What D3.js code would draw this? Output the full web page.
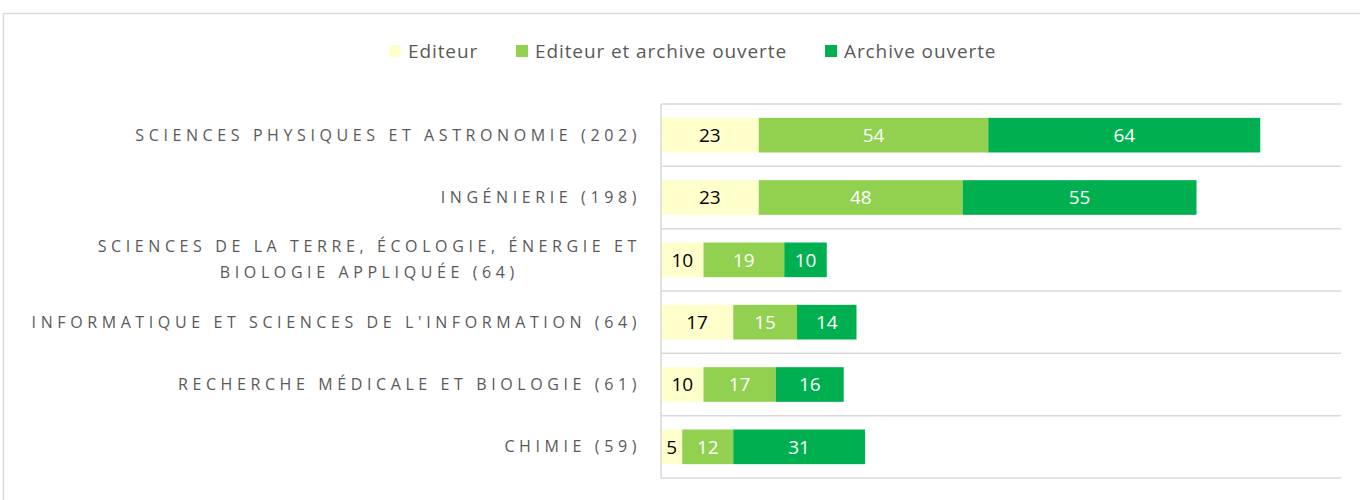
<!DOCTYPE html>
<html>
<head>
<meta charset="utf-8">
<script src="https://cdn.jsdelivr.net/npm/d3@7"></script>
<style>
  body { margin: 0; background: #fff; }
  svg { display: block; font-family: "Open Sans", sans-serif; }
</style>
</head>
<body>
<svg></svg>
<script>
let categories = [
  ["SCIENCES PHYSIQUES ET ASTRONOMIE (202)"],
  ["INGÉNIERIE (198)"],
  ["SCIENCES DE LA TERRE, ÉCOLOGIE, ÉNERGIE ET", "BIOLOGIE APPLIQUÉE (64)"],
  ["INFORMATIQUE ET SCIENCES DE L'INFORMATION (64)"],
  ["RECHERCHE MÉDICALE ET BIOLOGIE (61)"],
  ["CHIMIE (59)"]
];
let seriesNames = ["Editeur", "Editeur et archive ouverte", "Archive ouverte"];
let editeur = [23, 23, 10, 17, 10, 5];
let editeurArchive = [54, 48, 19, 15, 17, 12];
let archive = [64, 55, 10, 14, 16, 31];

let colors = ["#FFFFCC", "#92D050", "#00B050"];
let labelColors = ["#000000", "#ffffff", "#ffffff"];

let width = 1360;
let height = 500;
let plotLeft = 661;
let plotRight = 1341;
let plotTop = 104;
let plotBottom = 478;

let svg = d3.select("svg").attr("width", width).attr("height", height);

// chart frame
svg.append("rect")
  .attr("x", 3.5).attr("y", 13.5)
  .attr("width", 1400).attr("height", 600)
  .attr("fill", "none").attr("stroke", "#d9d9d9").attr("stroke-width", 1.5);

let rows = categories.map((c, i) => ({
  idx: i,
  vals: [editeur[i], editeurArchive[i], archive[i]]
}));

let xScale = d3.scaleLinear().domain([0, 160]).range([plotLeft, plotRight]);
let yScale = d3.scaleBand()
  .domain(d3.range(categories.length))
  .range([plotTop, plotBottom])
  .paddingInner(0.444)
  .paddingOuter(0.222);

// band separators
let step = yScale.step();
let seps = d3.range(categories.length + 1).map(i => plotTop + i * step);
svg.append("g").selectAll("line")
  .data(seps)
  .enter().append("line")
  .attr("x1", plotLeft).attr("x2", plotRight)
  .attr("y1", d => d).attr("y2", d => d)
  .attr("stroke", "#d9d9d9").attr("stroke-width", 1.5);

// stacked bars
let stacked = rows.map(r => {
  let acc = 0;
  return r.vals.map((v, k) => {
    let seg = { row: r.idx, k: k, v: v, x0: acc, x1: acc + v };
    acc += v;
    return seg;
  });
}).flat();

svg.append("g").selectAll("rect")
  .data(stacked)
  .enter().append("rect")
  .attr("x", d => xScale(d.x0))
  .attr("y", d => yScale(d.row))
  .attr("width", d => xScale(d.x1) - xScale(d.x0))
  .attr("height", yScale.bandwidth())
  .attr("fill", d => colors[d.k]);

svg.append("g").selectAll("text")
  .data(stacked)
  .enter().append("text")
  .attr("x", d => (xScale(d.x0) + xScale(d.x1)) / 2)
  .attr("y", d => yScale(d.row) + yScale.bandwidth() / 2)
  .attr("dy", "0.36em")
  .attr("text-anchor", "middle")
  .attr("font-size", 19)
  .attr("fill", d => labelColors[d.k])
  .text(d => d.v);

// left axis line
svg.append("line")
  .attr("x1", plotLeft).attr("x2", plotLeft)
  .attr("y1", plotTop).attr("y2", plotBottom)
  .attr("stroke", "#d9d9d9").attr("stroke-width", 1.5);

// category labels
let labelG = svg.append("g");
categories.forEach((lines, i) => {
  let cy = yScale(i) + yScale.bandwidth() / 2;
  let t = labelG.append("text")
    .attr("font-size", 16)
    .attr("letter-spacing", "4.6px")
    .attr("fill", "#595959");
  let lh = 26;
  lines.forEach((ln, j) => {
    t.append("tspan")
      .attr("y", cy + (j - (lines.length - 1) / 2) * lh)
      .attr("dy", "0.35em")
      .text(ln);
  });
  // right-align the block, center lines inside it
  let spans = t.selectAll("tspan").nodes();
  let widths = spans.map(s => s.getComputedTextLength());
  let maxW = d3.max(widths);
  let rightEdge = 641;
  spans.forEach((s, j) => {
    d3.select(s).attr("x", rightEdge - maxW / 2).attr("text-anchor", "middle");
  });
});

// legend
let legendX = [389, 516, 825];
let legend = svg.append("g");
seriesNames.forEach((name, k) => {
  legend.append("rect")
    .attr("x", legendX[k]).attr("y", 45)
    .attr("width", 12).attr("height", 12)
    .attr("fill", colors[k]);
  legend.append("text")
    .attr("x", legendX[k] + 19).attr("y", 51)
    .attr("dy", "0.36em")
    .attr("font-size", 19)
    .attr("letter-spacing", "0.9px")
    .attr("fill", "#595959")
    .text(name);
});
</script>
</body>
</html>
